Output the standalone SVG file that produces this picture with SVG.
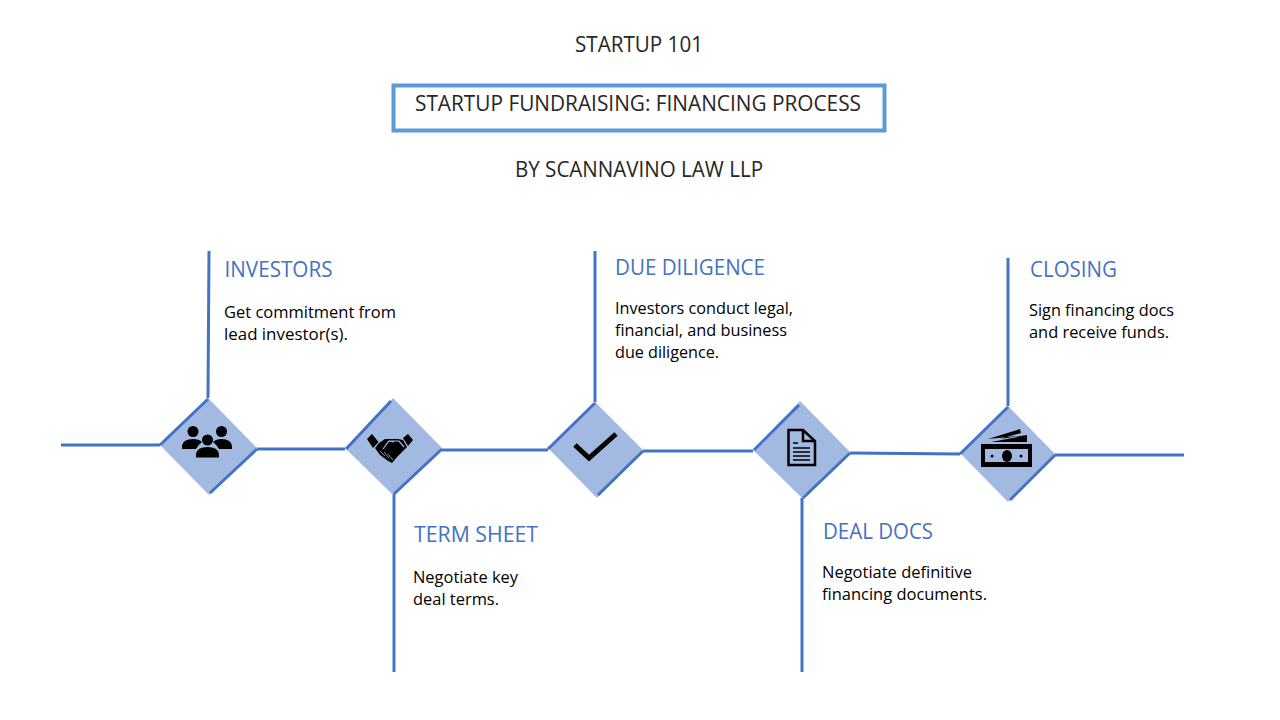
<svg xmlns="http://www.w3.org/2000/svg" width="1280" height="720" viewBox="0 0 1280 720">
<style>
text{font-family:"Open Sans","Noto Sans","Liberation Sans",sans-serif}
.t{font-size:21px;fill:#262626}
.h{font-size:21.5px;fill:#4472c4}
.b{font-size:16.500px;fill:#000}
.l{fill:none;stroke:#4472c4;stroke-width:3}
.d{fill:#a2b9e2}
.k{fill:#000}
.ks{fill:none;stroke:#000}
</style>
<rect width="1280" height="720" fill="#fff"/>
<g id="title">
<text class="t" x="639" y="52" text-anchor="middle" textLength="128" lengthAdjust="spacingAndGlyphs">STARTUP 101</text>
<rect x="393.500" y="85.500" width="491" height="45" fill="#fff" stroke="#5b9bd5" stroke-width="4"/>
<text class="t" x="638" y="111" text-anchor="middle" textLength="446" lengthAdjust="spacingAndGlyphs">STARTUP FUNDRAISING: FINANCING PROCESS</text>
<text class="t" x="639" y="177" text-anchor="middle" textLength="248" lengthAdjust="spacingAndGlyphs">BY SCANNAVINO LAW LLP</text>
</g>
<g id="connectors">
<path class="l" d="M61 445H160M208 398L209 251M257 449H345M442 450H548M595 402V251M643 451H753M850 453L960 454M1008 406L1008 258M1055 455H1184M394 494V672M802 498V672"/>
</g>
<g id="investors">
<path class="d" d="M160 445L208 398L257 448L209 495Z"/>
<path class="l" d="M160 445L208 399M257 449L210 493"/>
<g class="k">
<circle cx="193" cy="431.500" r="5.500"/><circle cx="221.500" cy="431.500" r="5.500"/><circle cx="207.500" cy="440" r="5.500"/>
<path d="M182 449V446Q183 439 193 439Q199 439 202 442Q198 445 196 449Z"/>
<path d="M232 449V446Q231 439 221.500 439Q216 439 213 442Q217 445 219 449Z"/>
<path d="M196 457.500V454Q197 447 207.500 447Q218 447 219 454V457.500Z"/>
</g>
<text class="h" x="224.500" y="277" textLength="108" lengthAdjust="spacingAndGlyphs">INVESTORS</text>
<text class="b" x="224" y="318" textLength="172" lengthAdjust="spacingAndGlyphs">Get commitment from</text>
<text class="b" x="224" y="340" textLength="124" lengthAdjust="spacingAndGlyphs">lead investor(s).</text>
</g>
<g id="term-sheet">
<path class="d" d="M346 449L393 398L442 448L393 495Z"/>
<path class="l" d="M346 449L391 401M442 449L394 494"/>
<g class="k">
<path d="M367 439L372 434L378.500 442L373 448Z"/>
<path d="M403 438L408 434L413 440L408 446Z"/>
<path d="M379 443L385 439H398L403 440L407 447L397 457L392 463L388 461L380 455L375 448Z"/>
</g>
<path d="M383 449L389 441L394 442M389 441H399L404 447" fill="none" stroke="#a2b9e2" stroke-width="1.200"/>
<path d="M380 451L385 456M384 452L389 458M388 454L393 460" fill="none" stroke="#a2b9e2" stroke-width="0.800"/>
<text class="h" x="414" y="542" textLength="124" lengthAdjust="spacingAndGlyphs">TERM SHEET</text>
<text class="b" x="413" y="583" textLength="105" lengthAdjust="spacingAndGlyphs">Negotiate key</text>
<text class="b" x="413" y="605" textLength="86" lengthAdjust="spacingAndGlyphs">deal terms.</text>
</g>
<g id="due-diligence">
<path class="d" d="M548 448L595 402L643 450L597 498Z"/>
<path class="l" d="M548 449L595 403M643 451L598 495"/>
<path class="ks" stroke-width="5" d="M575 445L589 458L616 434"/>
<text class="h" x="615" y="275" textLength="150" lengthAdjust="spacingAndGlyphs">DUE DILIGENCE</text>
<text class="b" x="615" y="314" textLength="178" lengthAdjust="spacingAndGlyphs">Investors conduct legal,</text>
<text class="b" x="615" y="336" textLength="172" lengthAdjust="spacingAndGlyphs">financial, and business</text>
<text class="b" x="615" y="358" textLength="104" lengthAdjust="spacingAndGlyphs">due diligence.</text>
</g>
<g id="deal-docs">
<path class="d" d="M753 450L800 401L850 452L802 498Z"/>
<path class="l" d="M754 450L799 405M850 453L803 498"/>
<path class="ks" stroke-width="2.500" d="M788.500 430H803L815 441V465H788.500ZM803 430V441H815"/>
<path class="ks" stroke-width="1.500" d="M793 443H798M793 448H810M793 452H810M793 456H810M793 460H810"/>
<text class="h" x="823" y="539" textLength="110" lengthAdjust="spacingAndGlyphs">DEAL DOCS</text>
<text class="b" x="822" y="578" textLength="150" lengthAdjust="spacingAndGlyphs">Negotiate definitive</text>
<text class="b" x="822" y="600" textLength="165" lengthAdjust="spacingAndGlyphs">financing documents.</text>
</g>
<g id="closing">
<path class="d" d="M960 453L1008 406L1055 454L1008 502Z"/>
<path class="l" d="M960 454L1008 407M1055 455L1010 500"/>
<path class="k" d="M988 439L1020 429L1021 433L1000 439L1027 435L1027 442H991L1018 437L1018 436Z"/>
<path class="k" fill-rule="evenodd" d="M981 444H1032V467H981ZM985 449V462H1028V449Z"/>
<ellipse class="k" cx="1007" cy="456" rx="5" ry="6"/>
<circle class="k" cx="992" cy="456" r="1.500"/><circle class="k" cx="1021" cy="456" r="1.500"/>
<text class="h" x="1030" y="277" textLength="87" lengthAdjust="spacingAndGlyphs">CLOSING</text>
<text class="b" x="1029" y="316" textLength="145" lengthAdjust="spacingAndGlyphs">Sign financing docs</text>
<text class="b" x="1029" y="338" textLength="140" lengthAdjust="spacingAndGlyphs">and receive funds.</text>
</g>
</svg>
